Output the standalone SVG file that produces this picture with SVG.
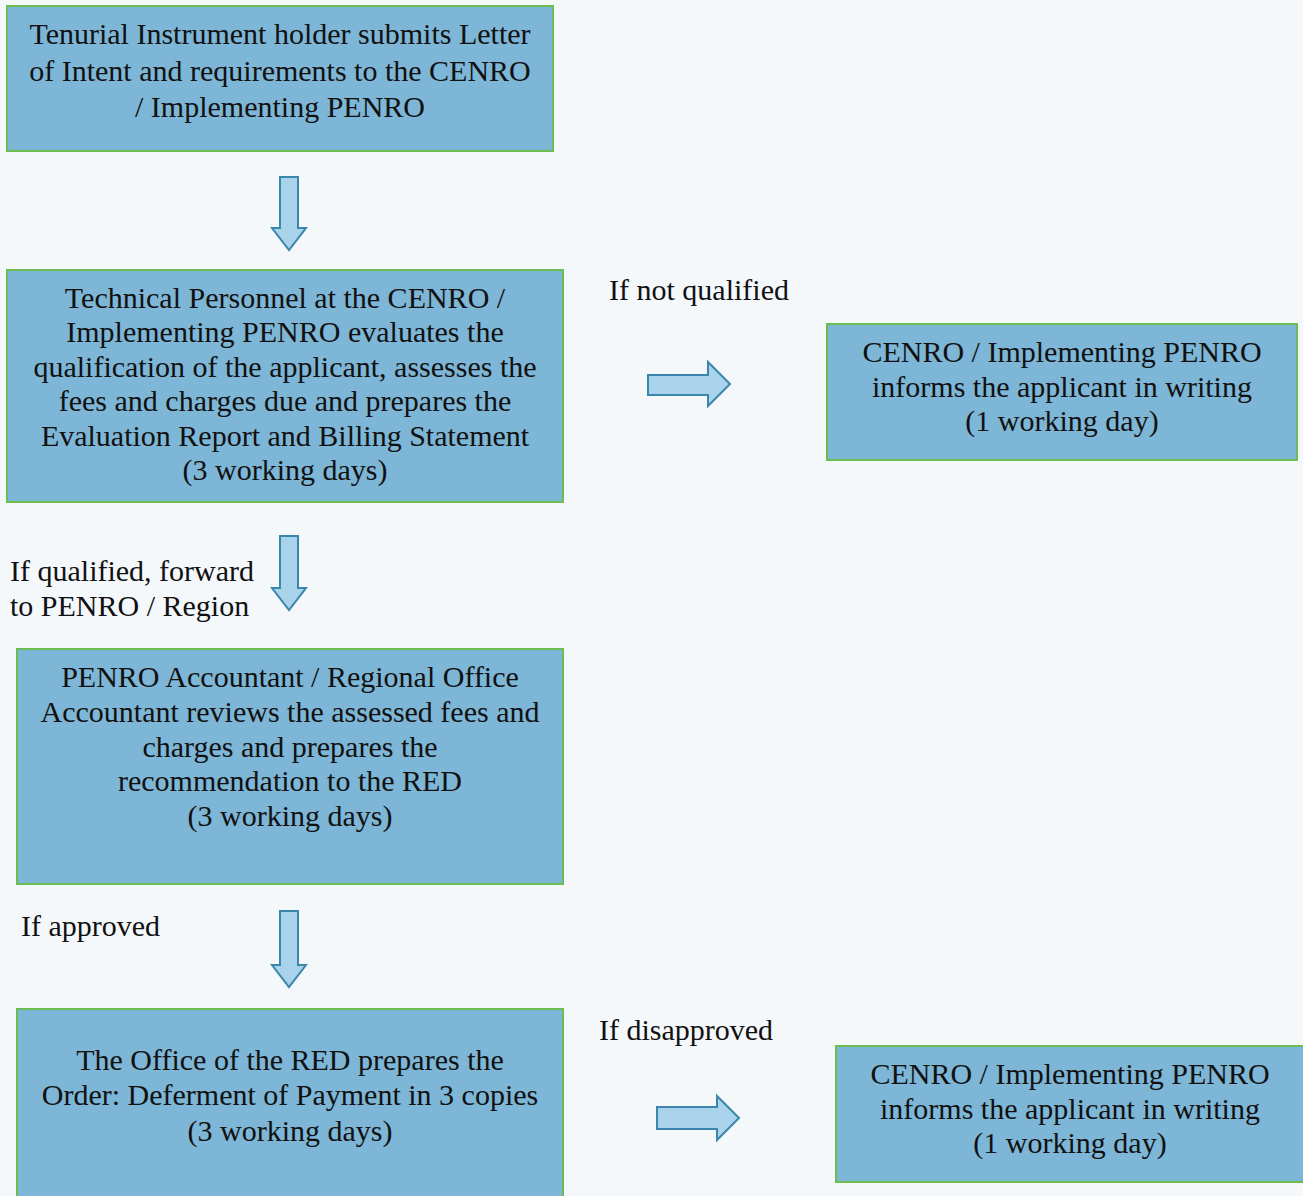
<svg xmlns="http://www.w3.org/2000/svg" width="1303" height="1196" viewBox="0 0 1303 1196">
<style>
.box{fill:#7db6d6;stroke:#6cbc52;stroke-width:2}
.t{font-family:"Liberation Serif","Times New Roman",serif;font-size:30px;fill:#111;text-anchor:middle}
.l{font-family:"Liberation Serif","Times New Roman",serif;font-size:30px;fill:#111}
.arr{fill:#a9d3ea;stroke:#3a86ad;stroke-width:2;stroke-linejoin:miter}
</style>
<rect width="1303" height="1196" fill="#f5f8fb"/>
<g id="n1">
<rect class="box" x="7" y="6" width="546" height="145"/>
<text class="t" x="280" y="44">Tenurial Instrument holder submits Letter</text>
<text class="t" x="280" y="81">of Intent and requirements to the CENRO</text>
<text class="t" x="280" y="117">/ Implementing PENRO</text>
</g>
<g id="n2">
<rect class="box" x="7" y="270" width="556" height="232"/>
<text class="t" x="285" y="308">Technical Personnel at the CENRO /</text>
<text class="t" x="285" y="342">Implementing PENRO evaluates the</text>
<text class="t" x="285" y="377">qualification of the applicant, assesses the</text>
<text class="t" x="285" y="411">fees and charges due and prepares the</text>
<text class="t" x="285" y="446">Evaluation Report and Billing Statement</text>
<text class="t" x="285" y="480">(3 working days)</text>
</g>
<g id="n3">
<rect class="box" x="827" y="324" width="470" height="136"/>
<text class="t" x="1062" y="362">CENRO / Implementing PENRO</text>
<text class="t" x="1062" y="397">informs the applicant in writing</text>
<text class="t" x="1062" y="431">(1 working day)</text>
</g>
<g id="n4">
<rect class="box" x="17" y="649" width="546" height="235"/>
<text class="t" x="290" y="687">PENRO Accountant / Regional Office</text>
<text class="t" x="290" y="722">Accountant reviews the assessed fees and</text>
<text class="t" x="290" y="757">charges and prepares the</text>
<text class="t" x="290" y="791">recommendation to the RED</text>
<text class="t" x="290" y="826">(3 working days)</text>
</g>
<g id="n5">
<rect class="box" x="17" y="1009" width="546" height="200"/>
<text class="t" x="290" y="1070">The Office of the RED prepares the</text>
<text class="t" x="290" y="1105">Order: Deferment of Payment in 3 copies</text>
<text class="t" x="290" y="1141">(3 working days)</text>
</g>
<g id="n6">
<rect class="box" x="836" y="1046" width="470" height="136"/>
<text class="t" x="1070" y="1084">CENRO / Implementing PENRO</text>
<text class="t" x="1070" y="1119">informs the applicant in writing</text>
<text class="t" x="1070" y="1153">(1 working day)</text>
</g>
<g id="connectors">
<path class="arr" d="M280,177 H298 V228 H306 L289,250 L272,228 H280 Z"/>
<path class="arr" d="M280,536 H298 V588 H306 L289,610 L272,588 H280 Z"/>
<path class="arr" d="M280,911 H298 V965 H306 L289,987 L272,965 H280 Z"/>
<path class="arr" d="M648,375 H708 V362 L730,384 L708,406 V395 H648 Z"/>
<path class="arr" d="M657,1107 H717 V1096 L739,1118 L717,1140 V1129 H657 Z"/>
<text class="l" x="609" y="300">If not qualified</text>
<text class="l" x="10" y="581">If qualified, forward</text>
<text class="l" x="10" y="616">to PENRO / Region</text>
<text class="l" x="21" y="936">If approved</text>
<text class="l" x="599" y="1040">If disapproved</text>
</g>
</svg>
